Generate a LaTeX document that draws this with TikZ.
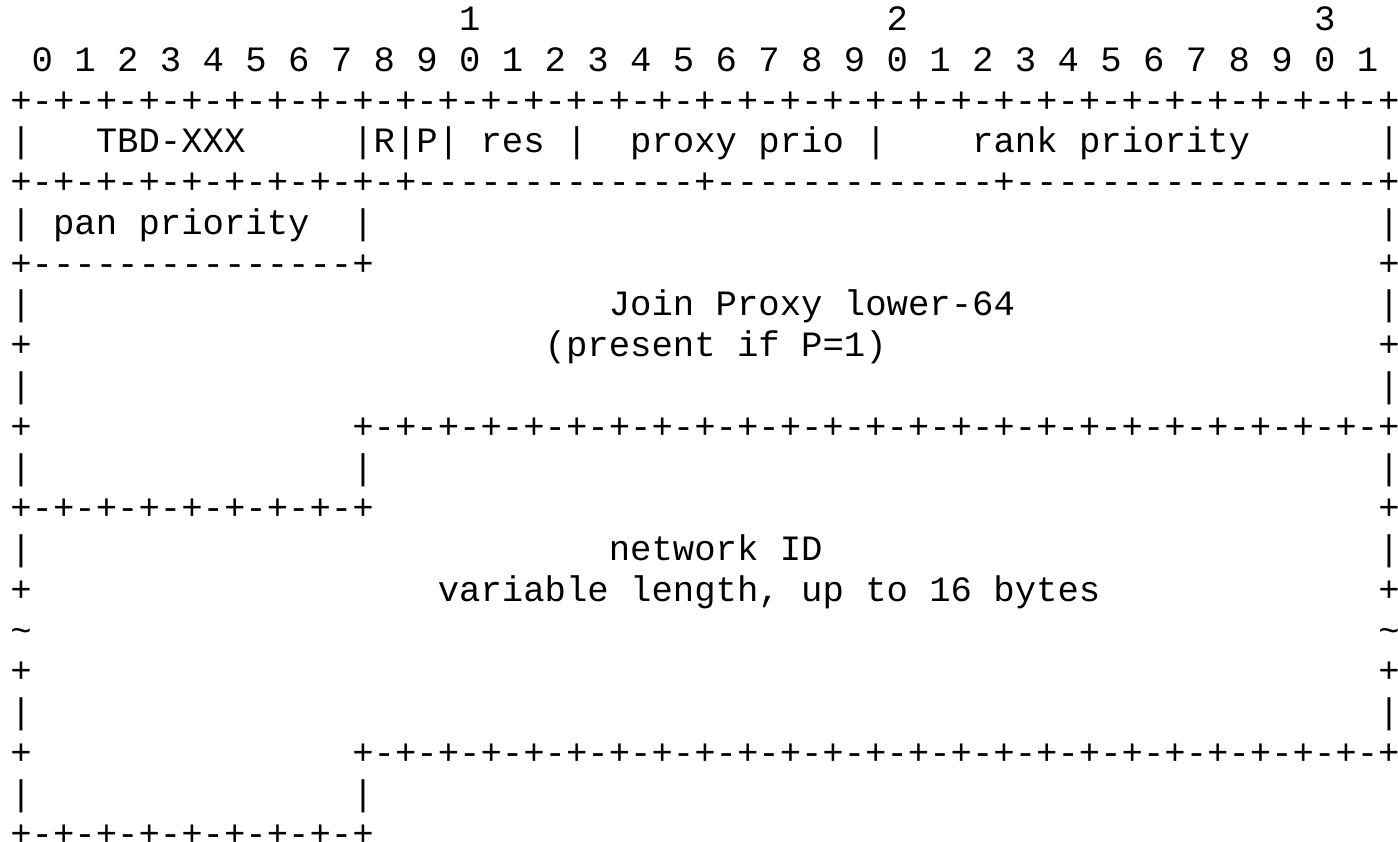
\documentclass[tikz,border=0pt]{standalone}
\usepackage{fontspec}
\setmonofont{Liberation Mono}
\tikzset{ascii/.style={anchor=base west,inner sep=0pt,outer sep=0pt,
  font=\ttfamily\fontsize{35.62pt}{40.75pt}\selectfont}}
\newcommand\asc[4]{\node[ascii] (#1) at ({10.31pt+#2*21.375pt},{-153pt-(#3-4)*40.75pt}) {#4};}
\begin{document}
\begin{tikzpicture}
\useasboundingbox (0,0) rectangle (1398pt,-842pt);
% line 1
\asc{h1a}{21}{1}{1}
\asc{h1b}{41}{1}{2}
\asc{h1c}{61}{1}{3}
% line 2
\asc{h2}{1}{2}{0 1 2 3 4 5 6 7 8 9 0 1 2 3 4 5 6 7 8 9 0 1 2 3 4 5 6 7 8 9 0 1}
% line 3
\asc{l3}{0}{3}{+-+-+-+-+-+-+-+-+-+-+-+-+-+-+-+-+-+-+-+-+-+-+-+-+-+-+-+-+-+-+-+-+}
% line 4
\asc{l4a}{0}{4}{|}
\asc{l4b}{4}{4}{TBD-XXX}
\asc{l4c}{16}{4}{|R|P| res |}
\asc{l4d}{29}{4}{proxy prio |}
\asc{l4e}{45}{4}{rank priority}
\asc{l4f}{64}{4}{|}
% line 5
\asc{l5}{0}{5}{+-+-+-+-+-+-+-+-+-+-------------+-------------+-----------------+}
% line 6
\asc{l6a}{0}{6}{|}
\asc{l6b}{2}{6}{pan priority}
\asc{l6c}{16}{6}{|}
\asc{l6d}{64}{6}{|}
% line 7
\asc{l7a}{0}{7}{+---------------+}
\asc{l7b}{64}{7}{+}
% line 8
\asc{l8a}{0}{8}{|}
\asc{l8b}{28}{8}{Join Proxy lower-64}
\asc{l8c}{64}{8}{|}
% line 9
\asc{l9a}{0}{9}{+}
\asc{l9b}{25}{9}{(present if P=1)}
\asc{l9c}{64}{9}{+}
% line 10
\asc{l10a}{0}{10}{|}
\asc{l10b}{64}{10}{|}
% line 11
\asc{l11a}{0}{11}{+}
\asc{l11b}{16}{11}{+-+-+-+-+-+-+-+-+-+-+-+-+-+-+-+-+-+-+-+-+-+-+-+-+}
% line 12
\asc{l12a}{0}{12}{|}
\asc{l12b}{16}{12}{|}
\asc{l12c}{64}{12}{|}
% line 13
\asc{l13a}{0}{13}{+-+-+-+-+-+-+-+-+}
\asc{l13b}{64}{13}{+}
% line 14
\asc{l14a}{0}{14}{|}
\asc{l14b}{28}{14}{network ID}
\asc{l14c}{64}{14}{|}
% line 15
\asc{l15a}{0}{15}{+}
\asc{l15b}{20}{15}{variable length, up to 16 bytes}
\asc{l15c}{64}{15}{+}
% line 16
\asc{l16a}{0}{16}{\textasciitilde}
\asc{l16b}{64}{16}{\textasciitilde}
% line 17
\asc{l17a}{0}{17}{+}
\asc{l17b}{64}{17}{+}
% line 18
\asc{l18a}{0}{18}{|}
\asc{l18b}{64}{18}{|}
% line 19
\asc{l19a}{0}{19}{+}
\asc{l19b}{16}{19}{+-+-+-+-+-+-+-+-+-+-+-+-+-+-+-+-+-+-+-+-+-+-+-+-+}
% line 20
\asc{l20a}{0}{20}{|}
\asc{l20b}{16}{20}{|}
% line 21
\asc{l21}{0}{21}{+-+-+-+-+-+-+-+-+}
\end{tikzpicture}
\end{document}
